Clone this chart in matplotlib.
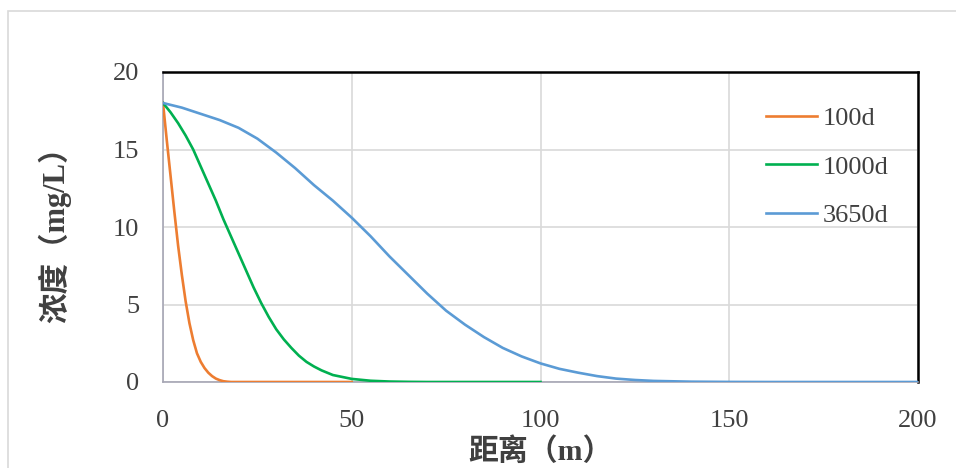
import matplotlib
matplotlib.use("Agg")
import matplotlib.pyplot as plt
from matplotlib.patches import Rectangle

# distance (m) and concentration (mg/L)
x_100d = [0, 1, 2, 3, 4, 5, 6, 7, 8, 9, 10, 11, 12, 13, 14, 15, 16, 17, 18,
          20, 25, 30, 35, 40, 45, 50]
c_100d = [18, 15.6, 13.3, 11.0, 8.8, 6.9, 5.2, 3.8, 2.7, 1.85, 1.3, 0.9, 0.6,
          0.38, 0.22, 0.12, 0.05, 0.02, 0, 0, 0, 0, 0, 0, 0, 0]

x_1000d = [0, 2, 4, 6, 8, 10, 12, 14, 16, 18, 20, 22, 24, 26, 28, 30, 32, 34,
           36, 38, 40, 42, 45, 50, 55, 60, 65, 70, 80, 90, 100]
c_1000d = [18, 17.4, 16.7, 15.9, 15.0, 13.9, 12.8, 11.7, 10.5, 9.4, 8.3, 7.2,
           6.1, 5.1, 4.2, 3.4, 2.75, 2.2, 1.7, 1.3, 1.0, 0.75, 0.45, 0.2, 0.08,
           0.03, 0.01, 0, 0, 0, 0]

x_3650d = [0, 5, 10, 15, 20, 25, 30, 35, 40, 45, 50, 55, 60, 65, 70, 75, 80,
           85, 90, 95, 100, 105, 110, 115, 120, 125, 130, 140, 150, 160, 170,
           180, 190, 200]
c_3650d = [18, 17.7, 17.3, 16.9, 16.4, 15.7, 14.8, 13.8, 12.7, 11.7, 10.6, 9.4,
           8.1, 6.9, 5.7, 4.6, 3.7, 2.9, 2.2, 1.65, 1.2, 0.85, 0.6, 0.38, 0.22,
           0.13, 0.07, 0.02, 0.005, 0, 0, 0, 0, 0]

series = [("100d", x_100d, c_100d, "#ED7D31"),
          ("1000d", x_1000d, c_1000d, "#00B050"),
          ("3650d", x_3650d, c_3650d, "#5B9BD5")]

x_ticks = [0, 50, 100, 150, 200]
y_ticks = [0, 5, 10, 15, 20]

serif_cjk = ["Liberation Serif", "Noto Sans CJK SC"]
tick_size = 19

fig = plt.figure(figsize=(9.56, 4.68), dpi=100)
fig.patches.append(Rectangle((8 / 956, -0.1), 1.2, 1 - 11 / 468 + 0.1,
                             transform=fig.transFigure, fill=False,
                             edgecolor="#D9D9D9", linewidth=1.2))

ax = fig.add_axes([163 / 956, 86 / 468, 755 / 956, 310 / 468])

for name, xs, ys, col in series:
    ax.plot(xs, ys, color=col, linewidth=1.9, label=name, zorder=3)

ax.set_xlim(0, 200)
ax.set_ylim(0, 20)
ax.set_xticks(x_ticks)
ax.set_yticks(y_ticks)
ax.grid(True, color="#D9D9D9", linewidth=1.2, zorder=0)
ax.tick_params(length=0, labelsize=tick_size, labelcolor="#404040")
ax.tick_params(axis="y", pad=17)
ax.tick_params(axis="x", pad=20)
for lab in ax.get_xticklabels() + ax.get_yticklabels():
    lab.set_family("Liberation Serif")

ax.spines["top"].set_color("black")
ax.spines["right"].set_color("black")
ax.spines["top"].set_linewidth(1.8)
ax.spines["right"].set_linewidth(1.8)
ax.spines["left"].set_color("#A6A6B4")
ax.spines["bottom"].set_color("#A6A6B4")
ax.spines["left"].set_linewidth(1.2)
ax.spines["bottom"].set_linewidth(1.2)

ax.set_xlabel("距离（m）", family=serif_cjk, fontweight="semibold",
              fontsize=21.5, color="#404040", labelpad=4)
ax.set_ylabel("浓度（mg/L）", family=serif_cjk, fontweight="semibold",
              fontsize=22, color="#404040", labelpad=30)

leg = ax.legend(loc="upper left", bbox_to_anchor=(0.767, 0.965), frameon=False,
                handlelength=1.95, handletextpad=0.22, labelspacing=0.95,
                prop={"family": "Liberation Serif", "size": tick_size})
for t in leg.get_texts():
    t.set_color("#404040")

fig.savefig("out.png", dpi=100)
